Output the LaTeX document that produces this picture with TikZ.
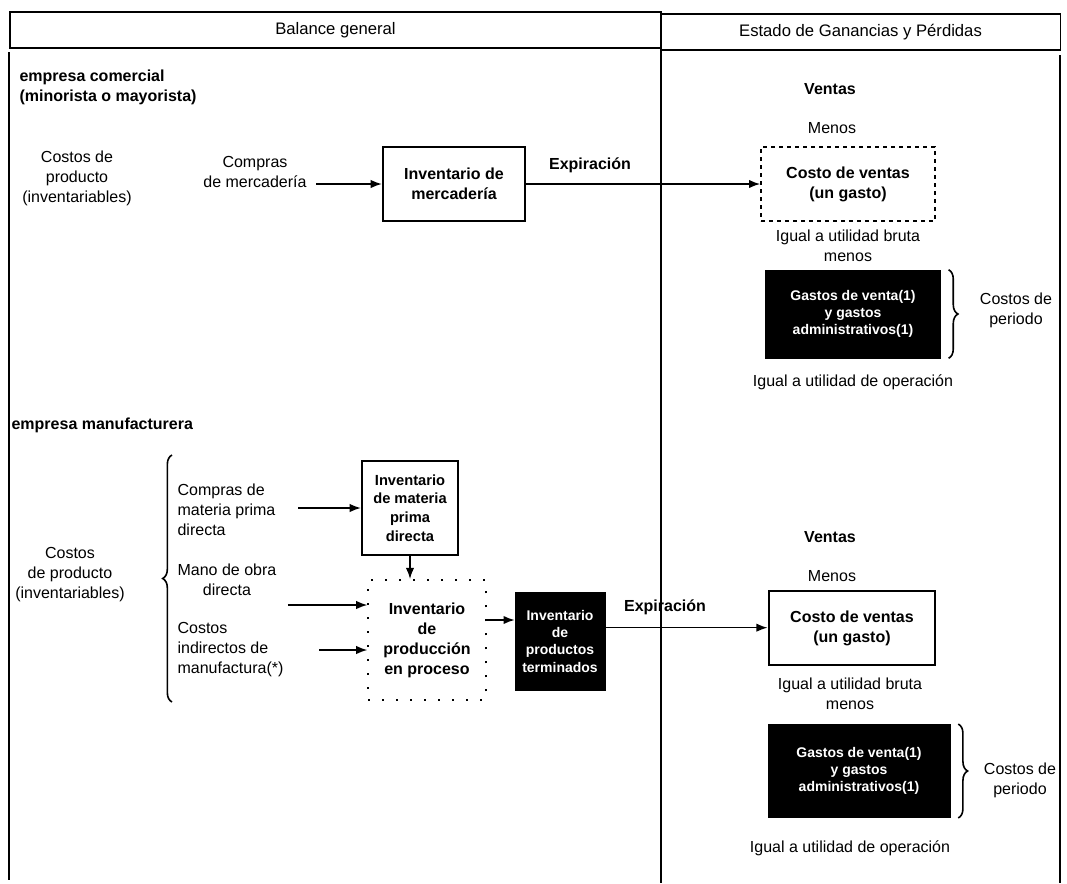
\documentclass[tikz,border=0pt]{standalone}
\usepackage{fontspec}
\setmainfont{Liberation Sans}
\usetikzlibrary{arrows.meta,positioning,calc,decorations.pathreplacing}

\begin{document}
\begin{tikzpicture}[x=0.75pt,y=-0.75pt,>=Latex,
  lbl/.style={align=center,font=\fontsize{12}{15}\selectfont,inner sep=1pt},
  lblb/.style={lbl,font=\fontsize{12}{15}\selectfont\bfseries},
  hdr/.style={draw,line width=1.4pt,font=\fontsize{12.5}{15}\selectfont,minimum height=27pt},
  invbox/.style={draw,line width=1.6pt,align=center,inner sep=2pt,font=\fontsize{12}{15}\selectfont\bfseries},
  darkbox/.style={draw=black,fill=black,text=white,align=center,inner sep=2pt,font=\fontsize{10.5}{13}\selectfont\bfseries},
  flow/.style={->,line width=1.2pt},
  pbrace/.style={decorate,decoration={brace,amplitude=7pt},line width=1.2pt}]
  \useasboundingbox (0,0) rectangle (1067,883);
  % Headers and frame
  \node[hdr,minimum width=488pt] (balance) at (335.5,30) {Balance general};
  \node[hdr,minimum width=300pt] (estado) at (860.5,32) {Estado de Ganancias y Pérdidas};
  \draw[line width=1.4pt] (9,52) -- (9,880);
  \draw[line width=1.4pt] (661,12) -- (661,883);
  \draw[line width=1.4pt] (1060,55) -- (1060,883);

  % Empresa comercial
  \node[lblb,align=left,anchor=west] (comercial) at (18,87) {empresa comercial\\(minorista o mayorista)};
  \node[lbl] (prodA) at (77,178) {Costos de\\producto\\(inventariables)};
  \node[lbl] (comprasA) at (255,172) {Compras\\de mercadería};
  \node[invbox,minimum width=106.5pt,minimum height=55.5pt] (invmerc) at (454,184) {Inventario de\\mercadería};
  \node[lblb] (expA) at (590,165) {Expiración};
  \draw[flow] ([xshift=6pt]comprasA.east |- invmerc.west) -- (invmerc.west);

  % Estado comercial
  \node[lblb] (ventasA) at (830,89) {Ventas};
  \node[lbl] (menosA) at (832,128) {Menos};
  \node[invbox,dashed,minimum width=130pt,minimum height=56pt] (costoA) at (848,184) {Costo de ventas\\(un gasto)};
  \node[lbl] (brutaA) at (848,246) {Igual a utilidad bruta\\menos};
  \node[darkbox,minimum width=131pt,minimum height=66pt] (gastosA) at (853,314) {Gastos de venta(1)\\y gastos\\administrativos(1)};
  \draw[pbrace] (gastosA.north east) ++(6pt,0) coordinate (bAtop) -- (bAtop |- gastosA.south) coordinate (bAbot);
  \node[lbl] (periodoA) at (1016,310) {Costos de\\periodo};
  \node[lbl] (operA) at (853,382) {Igual a utilidad de operación};
  \draw[flow] (invmerc.east) -- (costoA.west);

  % Empresa manufacturera
  \node[lblb,anchor=west] (manuf) at (10,425) {empresa manufacturera};
  \node[lbl] (prodB) at (70,575) {Costos\\de producto\\(inventariables)};
  \draw[pbrace] (172,702) -- (172,455);
  \node[lbl,align=left,anchor=west] (comprasB) at (176,510) {Compras de\\materia prima\\directa};
  \node[lbl,anchor=west] (mano) at (176,580) {Mano de obra\\directa};
  \node[lbl,align=left,anchor=west] (cif) at (176,650) {Costos\\indirectos de\\manufactura(*)};
  \node[invbox,font=\fontsize{11}{14}\selectfont\bfseries,minimum width=72pt,minimum height=70pt] (invmp) at (410,508) {Inventario\\de materia\\prima\\directa};
  \node[invbox,line width=1.4pt,dash pattern=on 1.5pt off 9pt,minimum width=88pt,minimum height=90pt] (wip) at (427,640) {Inventario\\de\\producción\\en proceso};
  \node[darkbox,minimum width=67.5pt,minimum height=73.5pt] (invpt) at (560,641) {Inventario\\de\\productos\\terminados};
  \node[lblb] (expB) at (665,607) {Expiración};
  \coordinate (manoA) at ($(mano.east)+(10,25)$);
  \coordinate (cifA) at ($(cif.east)+(34,0)$);
  \draw[flow] ([xshift=16pt]comprasB.east |- invmp.west) -- (invmp.west);
  \draw[flow] (invmp.south) -- (invmp.south |- wip.north);
  \draw[flow] (manoA) -- (manoA -| wip.west);
  \draw[flow] (cifA) -- (cifA -| wip.west);
  \draw[flow] ([yshift=15pt]wip.east) -- ([yshift=15pt]wip.east -| invpt.west);

  % Estado manufacturera
  \node[lblb] (ventasB) at (830,537) {Ventas};
  \node[lbl] (menosB) at (832,576) {Menos};
  \node[invbox,minimum width=125pt,minimum height=55pt] (costoB) at (852,628) {Costo de ventas\\(un gasto)};
  \node[lbl] (brutaB) at (850,694) {Igual a utilidad bruta\\menos};
  \node[darkbox,minimum width=136.5pt,minimum height=70pt] (gastosB) at (859,771) {Gastos de venta(1)\\y gastos\\administrativos(1)};
  \draw[pbrace] (gastosB.north east) ++(6pt,0) coordinate (bBtop) -- (bBtop |- gastosB.south) coordinate (bBbot);
  \node[lbl] (periodoB) at (1020,780) {Costos de\\periodo};
  \node[lbl] (operB) at (850,848) {Igual a utilidad de operación};
  \draw[flow] ([yshift=10pt]invpt.east) -- ([yshift=10pt]invpt.east -| costoB.west);
\end{tikzpicture}
\end{document}
